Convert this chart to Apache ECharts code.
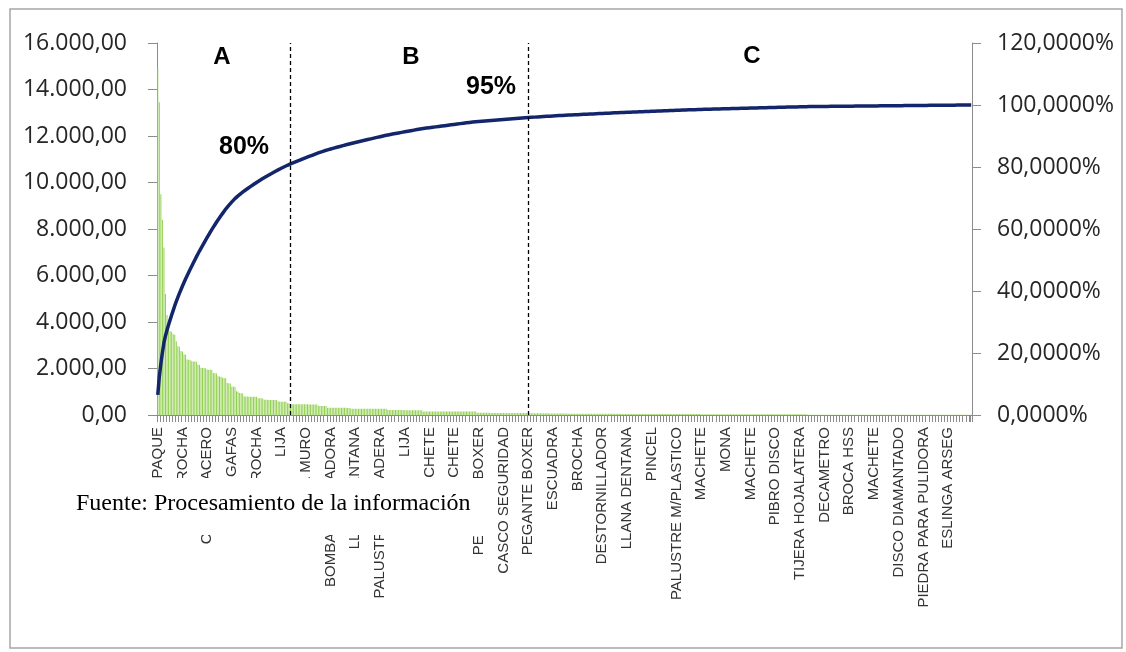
<!DOCTYPE html>
<html>
<head>
<meta charset="utf-8">
<script src="https://cdn.jsdelivr.net/npm/echarts@6/dist/echarts.min.js"></script>
<style>
  html, body { margin: 0; padding: 0; background: #ffffff; }
  #chart { width: 1126px; height: 652px; }
</style>
</head>
<body>
<div id="chart"></div>
<script>
// Visible category labels (one every 16 items)
const shownLabels = [
  'EMPAQUE', 'BROCHA', 'CLAVOS ACERO', 'GAFAS', 'BROCHA', 'LIJA', 'REJILLA MURO',
  'BOMBA FUMIGADORA', 'LLANA DENTANA', 'PALUSTRE DE MADERA', 'LIJA', 'MACHETE',
  'MACHETE', 'PEGANTE BOXER', 'CASCO SEGURIDAD', 'PEGANTE BOXER', 'ESCUADRA',
  'BROCHA', 'DESTORNILLADOR', 'LLANA DENTANA', 'PINCEL', 'PALUSTRE M/PLASTICO',
  'MACHETE', 'MONA', 'MACHETE', 'PIBRO DISCO', 'TIJERA HOJALATERA', 'DECAMETRO',
  'BROCA HSS', 'MACHETE', 'DISCO DIAMANTADO', 'PIEDRA PARA PULIDORA', 'ESLINGA ARSEG'
];
const labelEvery = 16;

// Bar values (sorted, descending)
const sales = [
  14900, 13450, 9500, 8400, 7200,
  5200, 4300, 3800, 3600, 3580, 3470, 3450, 3170, 2960, 2940, 2750, 2730, 2610, 2590, 2390, 2380, 2370,
  2310, 2300, 2300, 2290, 2170, 2150, 2030, 2020, 2020, 2010, 1960, 1950, 1950, 1940, 1810, 1800, 1790, 1670, 1660, 1650, 1600, 1590, 1580,
  1380, 1370, 1360, 1230, 1220, 1210, 1020, 1000, 950, 940, 930, 800, 800, 795, 790, 790, 790, 785, 780, 780, 725, 720, 720, 715,
  660, 655, 655, 650, 650, 650, 645, 645, 640, 580, 580, 575, 575, 570, 570, 510, 500,
  468, 466, 465, 464, 463, 462, 461, 460, 460, 459, 458, 457, 456, 455, 454, 453, 452, 451,
  395, 392, 390, 390, 388, 385,
  314, 313, 312, 312, 311, 310, 310, 310, 309, 308, 308, 307, 307, 306, 305,
  275, 274, 274, 273, 273, 272, 272, 271, 271, 270, 270, 270, 269, 269, 269, 268, 268, 267, 267, 266, 266, 265, 265, 265,
  213, 213, 212, 212, 212, 211, 211, 211, 210, 210, 210, 209, 209, 209, 209, 208, 208, 208, 207, 207, 207, 206, 206,
  153, 153, 153, 152, 152, 152, 152, 151, 151, 151, 151, 151, 150, 150, 150, 150, 150, 150, 149, 149, 149, 149, 149, 148, 148, 148, 148, 148, 147, 147, 147, 147, 146, 146, 146,
  93, 93, 93, 93, 92, 92, 92, 92, 92, 91, 91, 91, 91, 91, 90, 90, 90, 90, 90, 90, 89, 89, 89, 89, 89, 88, 88, 88, 88, 88, 87, 87, 87, 87,
  72, 72, 72, 71, 71, 71, 71, 70, 70, 70, 70, 70, 70, 69, 69, 69, 69, 68, 68, 68, 68, 67, 67, 67, 66,
  56, 56, 56, 56, 56, 56, 56,
  55, 55, 55, 55, 55, 55, 55,
  55, 55, 55, 55, 55, 55, 55,
  55, 55, 55, 55, 55, 55, 55,
  54, 54, 54, 54, 54, 54, 54,
  46, 46, 46, 46, 46, 46, 46, 46, 46, 46,
  46, 46, 46, 46, 46, 46, 46, 46, 46, 46,
  45, 45, 45, 45, 45, 45, 45, 45, 45, 45,
  45, 45, 45, 45, 45, 45, 45, 45, 45, 45,
  44, 44, 44, 44, 44, 44, 44, 44, 44, 44,
  44,
  31, 31, 31, 31, 31, 31, 31, 31, 31, 31,
  31, 31, 31, 31, 31, 31, 31, 31, 31, 31,
  30, 30, 30, 30, 30, 30, 30, 30, 30, 30,
  30, 30, 30, 30, 30, 30, 30, 30, 30, 30,
  30, 30, 30, 30, 30, 30, 30, 30, 30, 30,
  29, 29, 29, 29, 29, 29, 29, 29, 29, 29,
  29, 29, 29, 29, 29, 29, 29, 29, 29,
  13, 13, 13, 13, 13, 13, 13, 13, 13, 13,
  13, 13, 13, 13, 13, 13, 13, 13, 13, 13,
  12, 12, 12, 12, 12, 12, 12, 12, 12, 12,
  12, 12, 12, 12, 12, 12, 12, 12, 12, 12,
  12, 12, 12, 12, 12, 12, 12, 12, 12, 12,
  11, 11, 11, 11, 11, 11, 11, 11, 11, 11,
  11, 11, 11, 11, 11, 11, 11, 11, 11, 11,
  11, 11, 11, 11, 11, 11, 11, 11, 11, 11,
  10, 10, 10, 10, 10, 10, 10, 10, 10, 10,
  10, 10, 10, 10, 10, 10, 10, 10, 10, 10,
  10, 10, 10, 10, 10, 10, 10
];

// Class boundaries (item index where A ends / B ends)
const boundaryIdx = [86, 240];

// Annotation texts
const classLabels = ['A', 'B', 'C'];
const pctLabels = ['80%', '95%'];
const sourceNote = 'Fuente: Procesamiento de la información';

// Derived: category names and cumulative percentage (Pareto line)
const categories = sales.map((_, i) => (i % labelEvery === 0 ? (shownLabels[i / labelEvery] || '') : ''));
const total = sales.reduce((a, b) => a + b, 0);
let run = 0;
const cumulativePct = sales.map(v => { run += v; return +(run / total * 100).toFixed(4); });

function fmtLeft(v) {
  return String(v).replace(/\B(?=(\d{3})+(?!\d))/g, '.') + ',00';
}
function fmtRight(v) {
  return v + ',0000%';
}

const axisGray = '#8c8c8c';
const chart = echarts.init(document.getElementById('chart'), null, { renderer: 'canvas' });
chart.setOption({
  animation: false,
  backgroundColor: '#ffffff',
  grid: { left: 157, right: 154, top: 43, bottom: 237, outerBoundsMode: 'none', containLabel: false },
  xAxis: {
    type: 'category',
    data: categories,
    boundaryGap: true,
    z: 5,
    axisLine: { show: true, lineStyle: { color: axisGray, width: 1 } },
    axisTick: { show: true, interval: 1, length: 7, lineStyle: { color: axisGray, width: 1 } },
    axisLabel: {
      interval: labelEvery - 1, rotate: 90, margin: 12,
      fontFamily: 'Liberation Sans', fontSize: 15, color: '#333333',
      showMinLabel: true, showMaxLabel: true, hideOverlap: false
    },
    splitLine: { show: false }
  },
  yAxis: [
    {
      type: 'value', min: 0, max: 16000, interval: 2000, position: 'left',
      axisLine: { show: true, lineStyle: { color: axisGray, width: 1 } },
      axisTick: { show: true, length: 9, lineStyle: { color: axisGray } },
      splitLine: { show: false },
      axisLabel: { margin: 30, fontFamily: 'Open Sans', fontSize: 23, color: '#262626', formatter: fmtLeft }
    },
    {
      type: 'value', min: 0, max: 120, interval: 20, position: 'right',
      axisLine: { show: true, lineStyle: { color: axisGray, width: 1 } },
      axisTick: { show: true, length: 9, lineStyle: { color: axisGray } },
      splitLine: { show: false },
      axisLabel: { margin: 25, fontFamily: 'Open Sans', fontSize: 23, color: '#262626', formatter: fmtRight }
    }
  ],
  series: [
    {
      type: 'bar',
      data: sales,
      barCategoryGap: '35%',
      itemStyle: { color: '#92d050' },
      z: 2,
      markLine: {
        silent: true,
        symbol: ['none', 'none'],
        label: { show: false },
        lineStyle: { color: '#000000', type: [4, 3], width: 1.3 },
        data: boundaryIdx.map(i => ({ xAxis: i }))
      }
    },
    {
      type: 'line',
      yAxisIndex: 1,
      data: cumulativePct,
      showSymbol: false,
      symbol: 'none',
      smooth: false,
      lineStyle: { color: '#13256b', width: 3.5 },
      z: 4
    }
  ],
  graphic: [
    { type: 'rect', z: 100, shape: { x: 10, y: 9, width: 1112, height: 639 }, style: { fill: 'none', stroke: '#a6a6a6', lineWidth: 1.5 } },
    { type: 'rect', z: 100, shape: { x: 66, y: 478, width: 424, height: 57 }, style: { fill: '#ffffff' } },
    { type: 'text', z: 101, style: { text: sourceNote, x: 76, y: 504, font: '24px "Liberation Serif"', fill: '#000000', verticalAlign: 'middle' } },
    { type: 'text', z: 101, style: { text: classLabels[0], x: 222, y: 57, font: 'bold 24px "Liberation Sans"', fill: '#000000', align: 'center', verticalAlign: 'middle' } },
    { type: 'text', z: 101, style: { text: classLabels[1], x: 411, y: 57, font: 'bold 24px "Liberation Sans"', fill: '#000000', align: 'center', verticalAlign: 'middle' } },
    { type: 'text', z: 101, style: { text: classLabels[2], x: 752, y: 56, font: 'bold 24px "Liberation Sans"', fill: '#000000', align: 'center', verticalAlign: 'middle' } },
    { type: 'text', z: 101, style: { text: pctLabels[0], x: 244, y: 147, font: 'bold 25px "Liberation Sans"', fill: '#000000', align: 'center', verticalAlign: 'middle' } },
    { type: 'text', z: 101, style: { text: pctLabels[1], x: 491, y: 87, font: 'bold 25px "Liberation Sans"', fill: '#000000', align: 'center', verticalAlign: 'middle' } }
  ]
});
</script>
</body>
</html>
